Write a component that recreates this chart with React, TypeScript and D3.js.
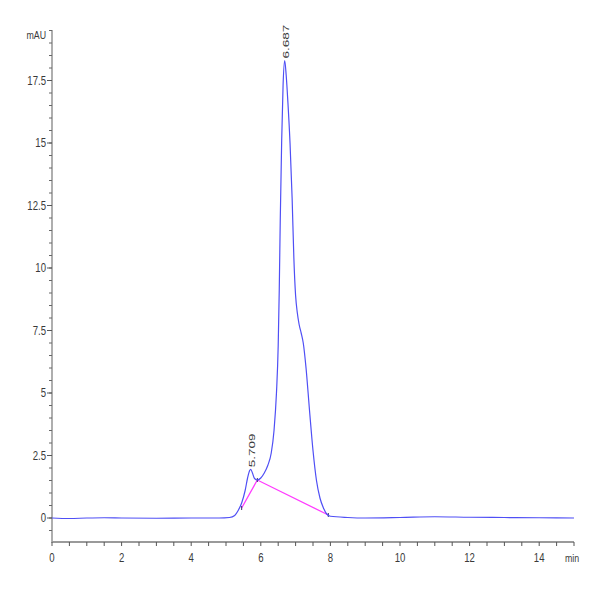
import { useMemo } from "react";
import { scaleLinear, line, curveMonotoneX, range } from "d3";

// chromatogram trace (min, mAU)
const times = [
  0, 0.5, 1, 1.5, 2, 3, 4, 4.8, 5.1, 5.25, 5.35, 5.45, 5.55, 5.62, 5.68, 5.71,
  5.76, 5.82, 5.9, 6.0, 6.1, 6.2, 6.3, 6.38, 6.45, 6.5, 6.53, 6.56, 6.6, 6.64,
  6.687, 6.73, 6.78, 6.84, 6.9, 6.95, 7.0, 7.05, 7.1, 7.16, 7.22, 7.3, 7.4, 7.5,
  7.6, 7.7, 7.8, 7.9, 8.0, 8.5, 9, 10, 11, 12, 13, 14, 15,
];
const absorbance = [
  0, -0.02, 0, 0.01, 0, -0.01, 0, 0, 0.02, 0.1, 0.3, 0.6, 1.1, 1.6, 1.9, 1.95,
  1.8, 1.58, 1.52, 1.6, 1.8, 2.1, 2.6, 3.5, 5.0, 6.9, 9.1, 12.0, 15.1, 17.3,
  18.3, 17.7, 16.6, 15.0, 12.8, 10.4, 8.9, 8.2, 7.75, 7.4, 7.0, 6.0, 4.3, 2.7,
  1.5, 0.8, 0.4, 0.15, 0.07, 0.02, 0, 0.02, 0.05, 0.03, 0.02, 0.01, 0,
];

// integration baseline
const baseTimes = [5.45, 5.9, 7.94];
const baseValues = [0.4, 1.52, 0.12];

// peak labels
const peakTimes = [5.709, 6.687];
const peakHeights = [1.95, 18.3];

const yTickValues = [0, 2.5, 5, 7.5, 10, 12.5, 15, 17.5];
const xTickValues = [0, 2, 4, 6, 8, 10, 12, 14];

const textColor = "#3a3a3a";

function NarrowText({
  x,
  y,
  anchor = "start",
  rotate = 0,
  size = 12,
  sx = 0.8,
  sy = 1,
  children,
}: {
  x: number;
  y: number;
  anchor?: "start" | "middle" | "end";
  rotate?: number;
  size?: number;
  sx?: number;
  sy?: number;
  children: React.ReactNode;
}) {
  return (
    <text
      transform={`translate(${x},${y}) rotate(${rotate}) scale(${sx},${sy})`}
      textAnchor={anchor}
      fontSize={size}
      fill={textColor}
    >
      {children}
    </text>
  );
}

export default function App() {
  const width = 600;
  const height = 600;
  const axisLeft = 52;
  const axisRight = 574;
  const axisTop = 30;
  const axisBottom = 542;

  const x = scaleLinear().domain([0, 15]).range([axisLeft, axisRight]);
  const y = scaleLinear().domain([0, 17.5]).range([518, 80.5]);

  const tracePath = useMemo(() => {
    const pts = times.map((t, i) => [t, absorbance[i]] as [number, number]);
    return line<[number, number]>()
      .x((d) => x(d[0]))
      .y((d) => y(d[1]))
      .curve(curveMonotoneX)(pts);
  }, []);

  const basePath = useMemo(() => {
    const pts = baseTimes.map((t, i) => [t, baseValues[i]] as [number, number]);
    return line<[number, number]>()
      .x((d) => x(d[0]))
      .y((d) => y(d[1]))(pts);
  }, []);

  const yMin = y.invert(axisBottom);
  const yMax = y.invert(axisTop);
  const yMinor = range(Math.ceil(yMin * 2) / 2, yMax, 0.5);
  const xMinor = range(0, 15.01, 0.5);

  const axisColor = "#9a9a9a";

  return (
    <svg
      width={width}
      height={height}
      viewBox={`0 0 ${width} ${height}`}
      style={{ position: "absolute", left: 0, top: 0, background: "#fff" }}
      fontFamily="'Liberation Sans', Arial, sans-serif"
    >
      {/* y axis */}
      <line x1={axisLeft} x2={axisLeft} y1={axisTop} y2={axisBottom + 1} stroke={axisColor} strokeWidth={1.6} />
      {yMinor.map((v) => (
        <line key={`ym-${v}`} x1={axisLeft - 3} x2={axisLeft} y1={y(v)} y2={y(v)} stroke="#666" strokeWidth={1} />
      ))}
      {yTickValues.map((v) => (
        <g key={`yt-${v}`}>
          <line x1={axisLeft - 5} x2={axisLeft} y1={y(v)} y2={y(v)} stroke="#555" strokeWidth={1} />
          <NarrowText x={axisLeft - 6} y={y(v) + 4.3} anchor="end">
            {v}
          </NarrowText>
        </g>
      ))}
      <NarrowText x={axisLeft - 6} y={axisTop + 9} anchor="end" size={11}>
        mAU
      </NarrowText>

      {/* x axis */}
      <line x1={axisLeft} x2={axisRight} y1={axisBottom} y2={axisBottom} stroke={axisColor} strokeWidth={1.8} />
      {xMinor.map((v) => (
        <line key={`xm-${v}`} x1={x(v)} x2={x(v)} y1={axisBottom} y2={axisBottom + 4} stroke="#555" strokeWidth={1} />
      ))}
      {xTickValues.map((v) => (
        <NarrowText key={`xt-${v}`} x={x(v)} y={axisBottom + 20} anchor="middle">
          {v}
        </NarrowText>
      ))}
      <NarrowText x={axisRight - 9} y={axisBottom + 20} size={11}>
        min
      </NarrowText>

      {/* integration baseline */}
      <path d={basePath ?? ""} fill="none" stroke="#ff3cff" strokeWidth={1.3} />
      {baseTimes.map((t, i) => (
        <line
          key={`bm-${t}`}
          x1={x(t)}
          x2={x(t)}
          y1={y(baseValues[i]) - 2}
          y2={y(baseValues[i]) + 2}
          stroke="#333366"
          strokeWidth={1}
        />
      ))}

      {/* trace */}
      <path d={tracePath ?? ""} fill="none" stroke="#4f4ff5" strokeWidth={1.2} />

      {/* peak labels */}
      {peakTimes.map((t, i) => (
        <NarrowText
          key={`pk-${t}`}
          x={x(t) + 4.5}
          y={y(peakHeights[i]) - 2}
          rotate={-90}
          size={13.5}
          sx={1}
          sy={0.65}
        >
          {t.toFixed(3)}
        </NarrowText>
      ))}
    </svg>
  );
}
